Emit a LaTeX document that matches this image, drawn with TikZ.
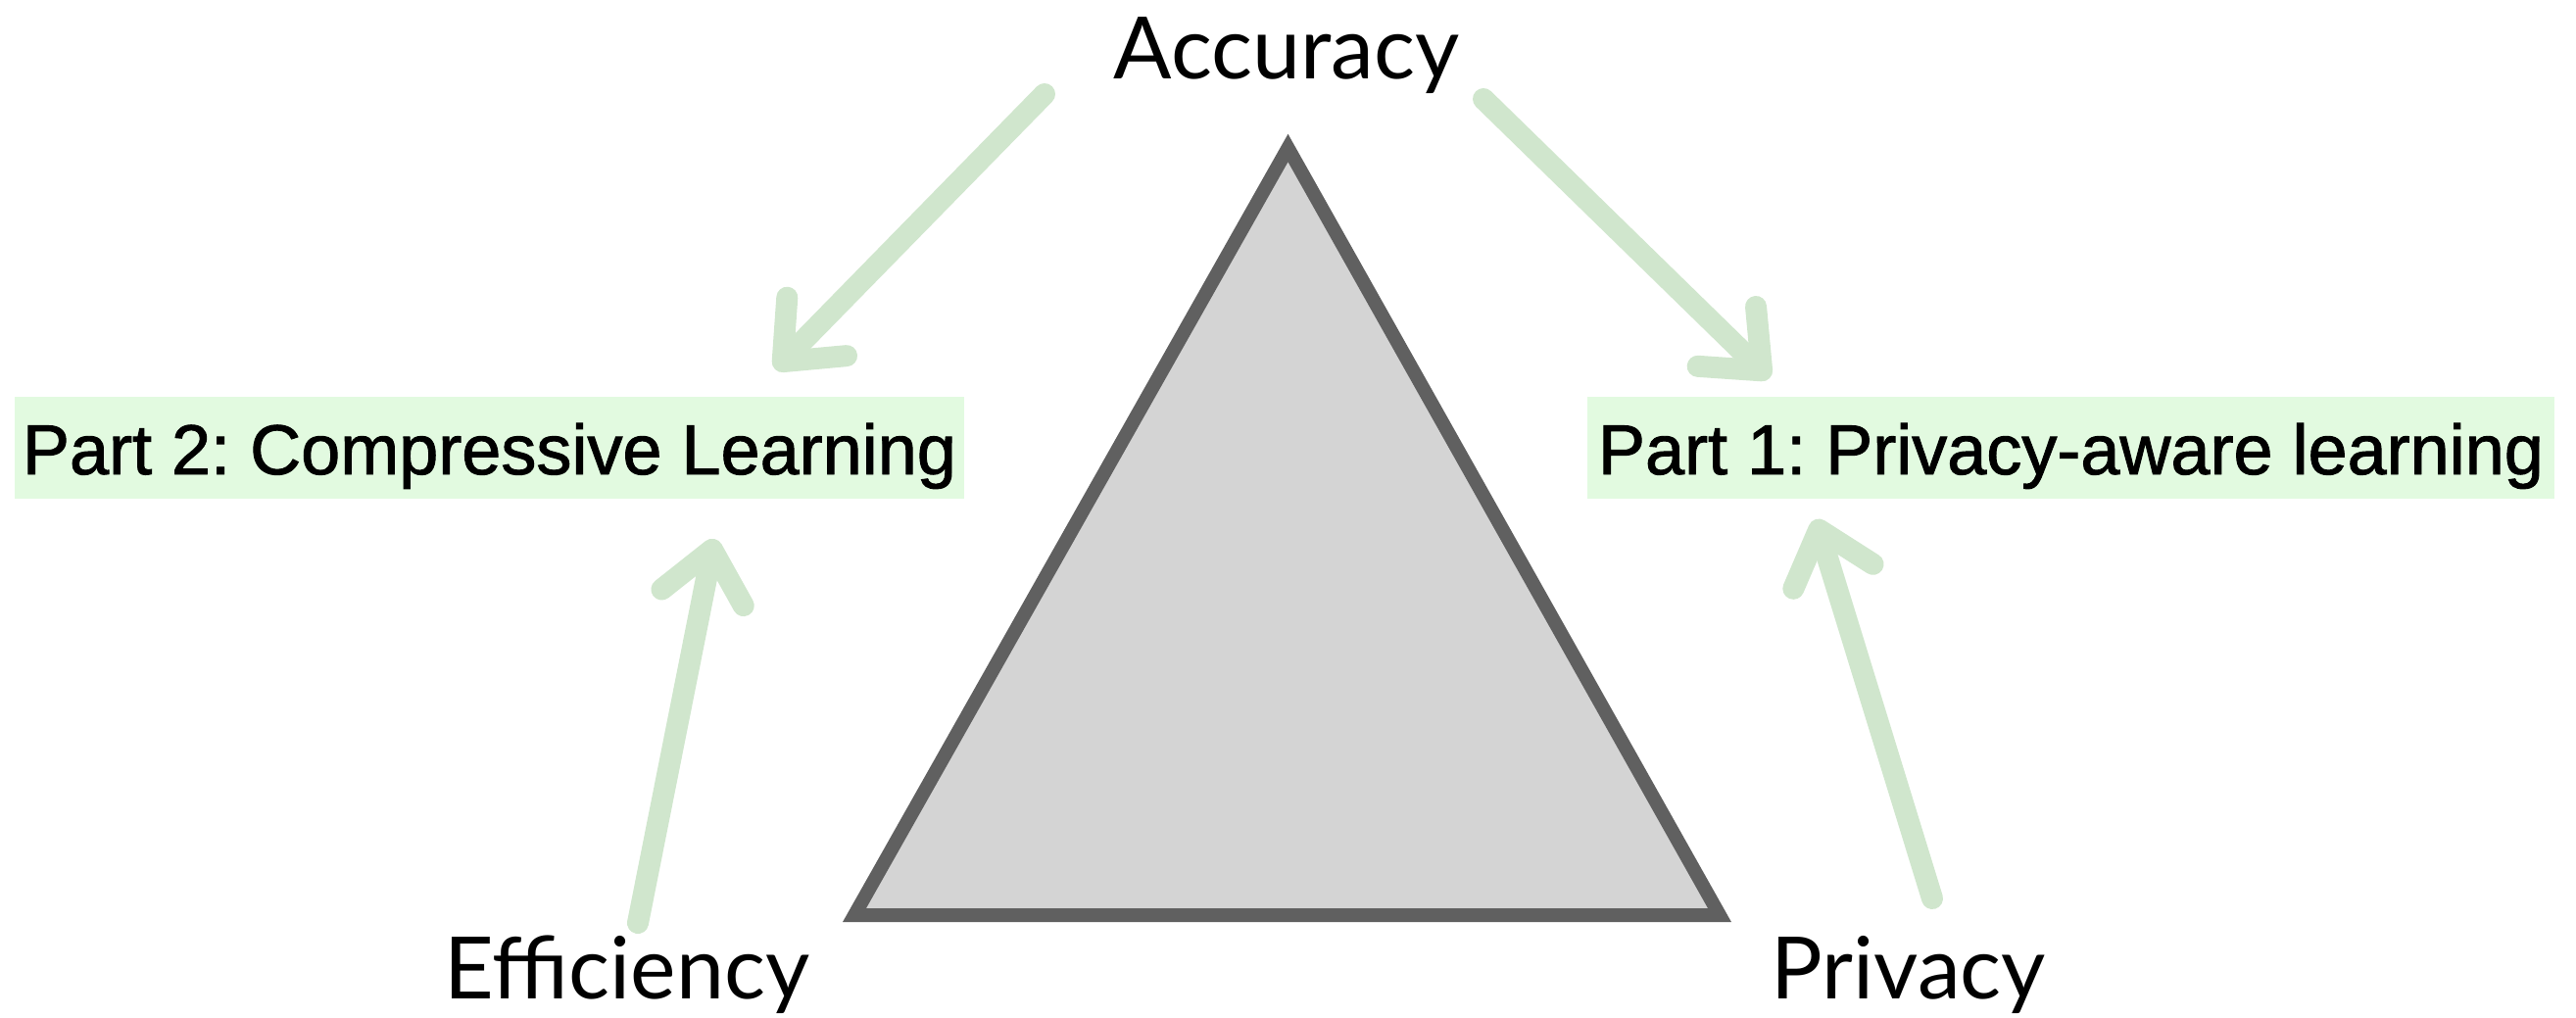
\documentclass[tikz,border=0pt]{standalone}
\usepackage{fontspec}
\setmainfont{Lato}
\newfontfamily\boxfont[FakeBold=1.3]{Liberation Sans}
\usetikzlibrary{arrows.meta}
\definecolor{partfill}{HTML}{E2FAE0}
\definecolor{brushcol}{HTML}{D0E6CD}
\definecolor{triline}{HTML}{606060}
\definecolor{trifill}{HTML}{D4D4D4}
\frenchspacing

\begin{document}
\begin{tikzpicture}[
  corner/.style={inner sep=0pt, anchor=base, font=\fontsize{25}{30}\selectfont},
  partbox/.style={fill=partfill, minimum height=1.04cm, inner sep=0pt,
              text height=0.6cm, text depth=0.06cm,
              font=\boxfont\fontsize{20.5}{24}\selectfont},
  brush/.style={brushcol, line width=0.22cm, line cap=round,
              -{Straight Barb[length=0.5cm, width=0.85cm, round]}}
]
\useasboundingbox (0,0) rectangle (26.29,-10.39);

% the trade-off triangle
\draw[triline, fill=trifill, line width=0.14cm, line join=miter]
  (13.145,-1.51) -- (17.55,-9.34) -- (8.72,-9.34) -- cycle;

\node[corner] (acc) at (13.13,-0.80) {Accuracy};
\node[corner] (eff) at (6.40,-10.19) {Efficiency};
\node[corner] (priv) at (19.48,-10.19) {Privacy};

\node[partbox, minimum width=9.69cm]  (part2) at (4.995,-4.57) {Part 2: Compressive Learning};
\node[partbox, minimum width=9.87cm] (part1) at (21.135,-4.57) {Part 1: Privacy-aware learning};

% brush strokes towards the two parts
\coordinate (a2s) at (10.66,-0.96);  \coordinate (a2e) at (7.91,-3.77);
\coordinate (a1s) at (15.14,-1.01);  \coordinate (a1e) at (18.06,-3.86);
\coordinate (e2s) at (6.51,-9.42);   \coordinate (e2e) at (7.29,-5.50);
\coordinate (p1s) at (19.72,-9.17);  \coordinate (p1e) at (18.53,-5.30);

\draw[brush] (a2s) -- (a2e);
\draw[brush] (a1s) -- (a1e);
\draw[brush] (e2s) -- (e2e);
\draw[brush] (p1s) -- (p1e);
\end{tikzpicture}
\end{document}
